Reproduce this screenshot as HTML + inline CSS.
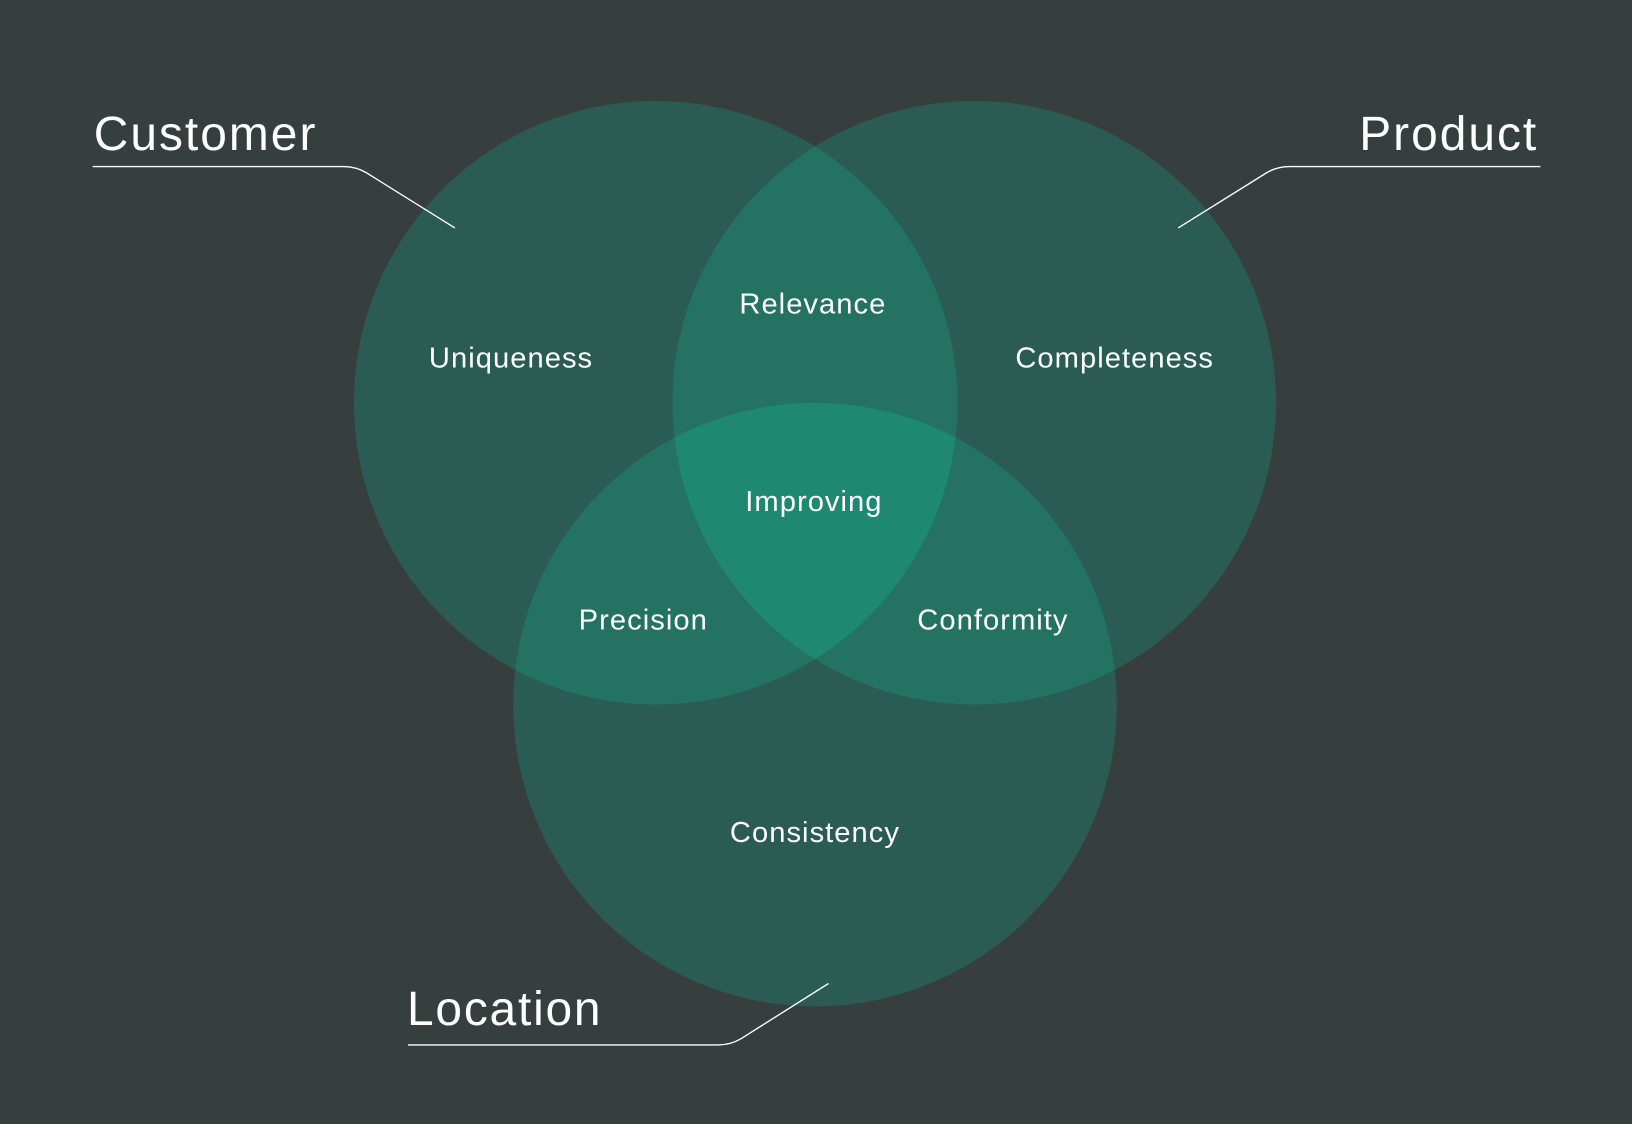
<!DOCTYPE html>
<html><head><style>html,body{margin:0;padding:0;background:#363f3e;}svg{display:block}</style></head>
<body>
<svg width="1632" height="1124" viewBox="0 0 1568 1080" xmlns="http://www.w3.org/2000/svg" font-family="Liberation Sans, sans-serif">
<defs>
<clipPath id="cA"><circle cx="630" cy="387" r="290"/></clipPath>
<clipPath id="cB"><circle cx="936" cy="387" r="290"/></clipPath>
<clipPath id="cC"><circle cx="783" cy="677" r="290"/></clipPath>
</defs>
<rect width="1568" height="1080" fill="#363f3e"/>
<circle cx="630" cy="387" r="290" fill="#2a5c53"/>
<circle cx="936" cy="387" r="290" fill="#2a5c53"/>
<circle cx="783" cy="677" r="290" fill="#2a5c53"/>
<g fill="#237262">
<circle cx="936" cy="387" r="290" clip-path="url(#cA)"/>
<circle cx="783" cy="677" r="290" clip-path="url(#cA)"/>
<circle cx="783" cy="677" r="290" clip-path="url(#cB)"/>
</g>
<g clip-path="url(#cA)"><circle cx="783" cy="677" r="290" fill="#1e8870" clip-path="url(#cB)"/></g>
<g fill="none" stroke="#ffffff" stroke-width="1.3">
<path d="M89 160 H330 Q342 160 352 166 L437 219"/>
<path d="M1480 160 H1239 Q1227 160 1217 166 L1132 219"/>
<path d="M392 1004 H690 Q702 1004 712 998 L796 945"/>
</g>
<g fill="#ffffff">
<text x="90" y="144" font-size="46" textLength="213" lengthAdjust="spacing">Customer</text>
<text x="1306" y="144" font-size="46" textLength="170" lengthAdjust="spacing">Product</text>
<text x="391" y="985" font-size="46" textLength="186" lengthAdjust="spacing">Location</text>
<g font-size="28" text-anchor="middle" letter-spacing="1">
<text x="491" y="353">Uniqueness</text>
<text x="781" y="301">Relevance</text>
<text x="1071" y="353">Completeness</text>
<text x="782" y="491">Improving</text>
<text x="618" y="605">Precision</text>
<text x="954" y="605">Conformity</text>
<text x="783" y="809">Consistency</text>
</g>
</g>
</svg>
</body></html>
